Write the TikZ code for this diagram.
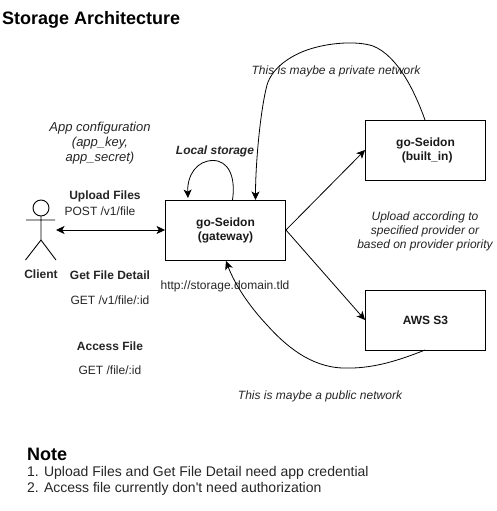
\documentclass[tikz,border=0pt]{standalone}
\usepackage{fontspec}
\setmainfont{Liberation Sans}
\newfontfamily\plainsans{Liberation Sans}
\usetikzlibrary{arrows.meta}
\tikzset{
  box/.style={draw=black,line width=0.9pt,minimum width=120pt,minimum height=60pt,inner sep=0pt,align=center,font=\fontsize{12}{14}\selectfont\bfseries,text=black!90},
  lbl/.style={inner sep=0pt,align=center,font=\fontsize{12}{14.3}\selectfont,text=black!85},
  blbl/.style={lbl,font=\fontsize{12}{14.3}\selectfont\bfseries},
  ilbl/.style={lbl,font=\fontsize{12}{14.3}\selectfont\itshape},
  notetxt/.style={inner sep=0pt,anchor=west,font=\plainsans\fontsize{14}{16}\selectfont,text=black!85},
  tip/.tip={Stealth[length=8.5pt,width=8pt,inset=2.2pt]},
  conn/.style={line width=0.8pt,-tip},
  actor/.style={line width=0.9pt}
}
\begin{document}
\begin{tikzpicture}[x=1pt,y=-1pt]
\useasboundingbox[fill=white] (0,0) rectangle (496,511);
\node[inner sep=0pt,anchor=west,font=\fontsize{18}{20}\selectfont\bfseries] (title) at (2,20) {Storage Architecture};
% boxes
\node[box] (gw) at (225.5,230) {go-Seidon\\(gateway)};
\node[box] (bi) at (425.5,150) {go-Seidon\\\ (built\_in)};
\node[box] (s3) at (425.5,320) {AWS S3};
% actor
\draw[actor] (41,208) circle (8);
\draw[actor] (41,216) -- (41,240) (26,220) -- (55,220) (25.5,260) -- (41,240) -- (56,260);
\coordinate (client) at (56,230);
\node[lbl,font=\fontsize{12}{14}\selectfont\bfseries] (clbl) at (41,274) {Client};
% labels
\node[ilbl,font=\fontsize{13}{15}\selectfont\itshape] (cfg) at (100,143) {App configuration\\(app\_key,\\app\_secret)};
\node[ilbl,font=\fontsize{12}{14}\selectfont\bfseries\itshape] (local) at (215,151) {Local storage};
\node[blbl] (up) at (105,196) {Upload Files};
\node[lbl] (post) at (100,211) {POST /v1/file};
\node[blbl] (det) at (110,275.5) {Get File Detail};
\node[lbl] (getd) at (110,300.5) {GET /v1/file/:id};
\node[blbl] (acc) at (110,346) {Access File};
\node[lbl] (getf) at (110,370) {GET /file/:id};
\node[lbl] (url) at (225,286) {http://storage.domain.tld};
\node[ilbl] (priv) at (336,71) {This is maybe a private network};
\node[ilbl] (pub) at (320,396) {This is maybe a public network};
\node[ilbl,font=\fontsize{12}{14}\selectfont\itshape] (prov) at (425,231) {Upload according to\\specified provider or\\based on provider priority};
\node[inner sep=0pt,anchor=west,font=\fontsize{18}{20}\selectfont\bfseries] (note) at (27,454) {Note};
\node[notetxt] (n1) at (27,473) {1. Upload Files and Get File Detail need app credential};
\node[notetxt] (n2) at (27,489) {2. Access file currently don't need authorization};
% connector end points on the boxes
\coordinate (loopS) at (232.5,200);
\coordinate (loopE) at (188,198);
\coordinate (privE) at (255.5,200);
\coordinate (privS) at (425,120);
\coordinate (pubS) at (425,350);
\coordinate (pubE) at (226,261);
% connectors
\draw[line width=0.8pt,tip-tip] (client) -- (gw.west);
\draw[conn] (gw.east) -- (bi.west);
\draw[conn] (gw.east) -- (s3.west);
\draw[conn] (loopS) .. controls (236,176) and (228,160.5) .. (213,160.5) .. controls (197,160.5) and (187,175) .. (loopE);
\draw[conn] (privS) .. controls (415,92) and (398,56) .. (373,46) .. controls (358,41) and (330,42) .. (307,50) .. controls (290,56) and (272,68) .. (267,85) .. controls (260,112) and (255.5,165) .. (privE);
\draw[conn] (pubS) .. controls (395,362) and (370,369) .. (343,368) .. controls (310,367) and (285,345) .. (267,325) .. controls (250,307) and (235,285) .. (pubE);
\end{tikzpicture}
\end{document}
